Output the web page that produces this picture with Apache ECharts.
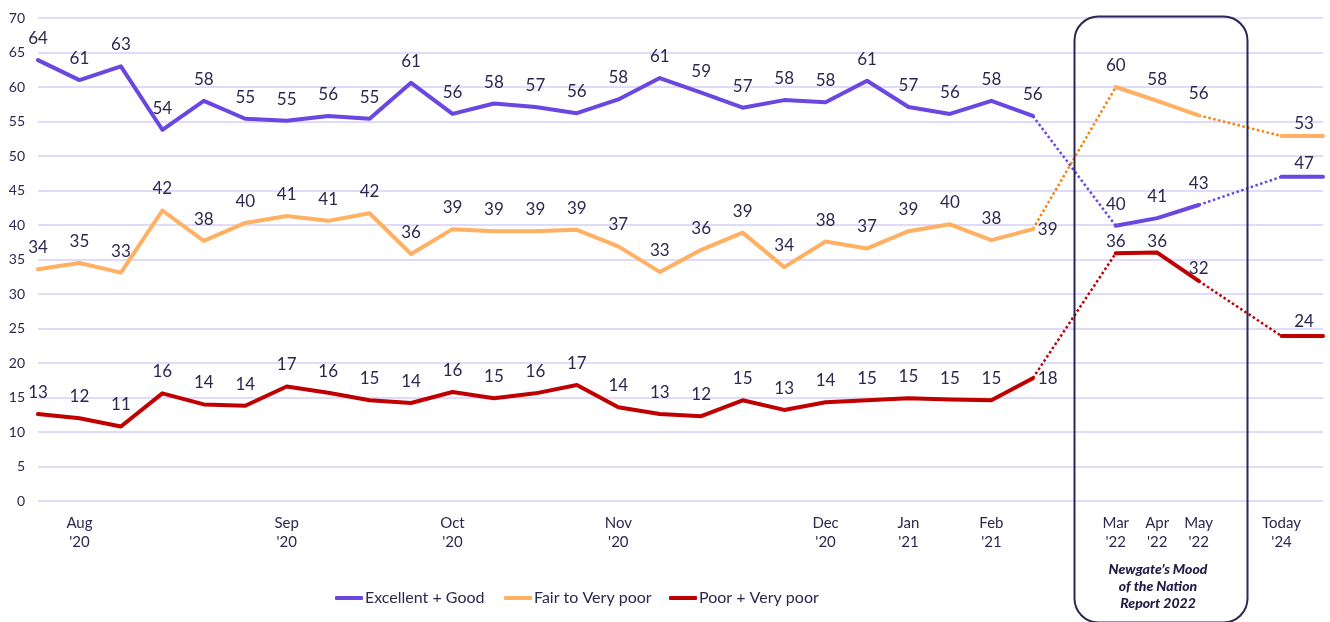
<!DOCTYPE html>
<html><head><meta charset="utf-8">
<script src="https://cdn.jsdelivr.net/npm/echarts@6/dist/echarts.min.js"></script>
<style>html,body{margin:0;padding:0;background:#fff}#c{width:1330px;height:622px}</style>
</head><body><div id="c"></div>
<script>
// ---- data ----
const categories = ["", "Aug\n'20", "", "", "", "", "Sep\n'20", "", "", "", "Oct\n'20", "", "", "", "Nov\n'20", "", "", "", "", "Dec\n'20", "", "Jan\n'21", "", "Feb\n'21", "", "", "Mar\n'22", "Apr\n'22", "May\n'22", "", "Today\n'24", ""];
const seriesNames = ["Excellent + Good", "Fair to Very poor", "Poor + Very poor"];
const excellentGood = [63.9,61.0,63.0,53.8,58.0,55.4,55.1,55.8,55.4,60.6,56.1,57.6,57.1,56.2,58.2,61.3,59.2,57.0,58.1,57.8,60.9,57.1,56.1,58.0,55.8,null,39.9,41.0,42.9,null,47.0,47.0];
const fairToVeryPoor = [33.6,34.5,33.1,42.1,37.7,40.3,41.3,40.6,41.7,35.8,39.4,39.1,39.1,39.3,36.9,33.2,36.4,38.9,33.9,37.6,36.6,39.1,40.1,37.8,39.4,null,60.0,58.0,55.9,null,52.9,52.9];
const poorVeryPoor = [12.6,12.0,10.8,15.6,14.0,13.8,16.6,15.7,14.6,14.2,15.8,14.9,15.6,16.8,13.6,12.6,12.3,14.6,13.2,14.3,14.6,14.9,14.7,14.6,17.8,null,35.9,36.0,31.9,null,23.9,23.9];
const bridges = [[24, 26], [28, 30]];
const yMin = 0, yMax = 70, yStep = 5;

// ---- styling ----
const FONT = 'Lato';
const TXT = '#2b2850';
const colors = ['#6a47e0', '#ffb062', '#c00000'];
const dotColors = ['#6a47e0', '#f7820c', '#c00000'];
const legendLefts = [330, 499, 664];

function buildData(arr, special) {
  return arr.map((v, i) => {
    if (v == null) return '-';
    const lab = Object.assign({ show: true }, special[i] || {});
    return { value: v, label: lab };
  });
}
function bridgeData(arr, a, b) {
  return arr.map((v, i) => (i === a || i === b) ? v : '-');
}

const specials = [
  { 30: { show: false }, 31: { offset: [-19, 0], distance: 4 } },
  { 24: { position: 'right', distance: 4 }, 30: { show: false }, 31: { offset: [-19, 0], distance: 3 } },
  { 24: { position: 'right', distance: 4 }, 26: { distance: 2 }, 27: { distance: 2 }, 28: { distance: 3 }, 30: { show: false }, 31: { offset: [-19, 0], distance: 5 } }
];
const arrays = [excellentGood, fairToVeryPoor, poorVeryPoor];

const series = [];
arrays.forEach((arr, k) => {
  bridges.forEach(([a, b]) => {
    series.push({
      name: seriesNames[k] + ' bridge' + a, type: 'line', data: bridgeData(arr, a, b),
      connectNulls: true, symbol: 'none', silent: true, z: 2,
      lineStyle: { color: dotColors[k], width: 2.5, type: [2.5, 2.5] }, label: { show: false }
    });
  });
});
arrays.forEach((arr, k) => {
  series.push({
    name: seriesNames[k], type: 'line', data: buildData(arr, specials[k]),
    connectNulls: false, symbol: 'circle', symbolSize: 2, showSymbol: true, z: 3,
    lineStyle: { color: colors[k], width: 4, cap: 'round', join: 'round' },
    itemStyle: { color: colors[k] },
    label: {
      show: true, position: 'top', distance: 12, color: TXT, fontFamily: FONT, fontSize: 17,
      formatter: p => Math.round(p.value)
    }
  });
});

const chart = echarts.init(document.getElementById('c'));
chart.setOption({
  animation: false,
  grid: { left: 38, right: 7, top: 18, bottom: 121, containLabel: false },
  xAxis: {
    type: 'category', data: categories, boundaryGap: false,
    axisLine: { show: false }, axisTick: { show: false },
    axisLabel: { interval: 0, color: TXT, fontFamily: FONT, fontSize: 15, lineHeight: 19, margin: 13 }
  },
  yAxis: {
    type: 'value', min: yMin, max: yMax, interval: yStep,
    axisLine: { show: false }, axisTick: { show: false },
    axisLabel: { color: TXT, fontFamily: FONT, fontSize: 14, margin: 13 },
    splitLine: { lineStyle: { color: '#d6cefa', width: 1.5 } }
  },
  legend: seriesNames.map((n, k) => ({
    data: [n], left: legendLefts[k], top: 585, itemWidth: 28, itemHeight: 4,
    icon: 'roundRect',
    textStyle: { color: TXT, fontFamily: FONT, fontSize: 16, padding: [0, 0, 0, -3] }
  })),
  graphic: [
    { type: 'rect', left: 1072, top: 14, z: 10, silent: true,
      shape: { width: 173, height: 606, r: 24 },
      style: { fill: 'none', stroke: '#2b2752', lineWidth: 2 } },
    { type: 'text', x: 1158, y: 561, z: 10, silent: true,
      style: { text: "Newgate\u2019s Mood\nof the Nation\nReport 2022", align: 'center',
        fontFamily: FONT, fontSize: 14, fontWeight: 900, fontStyle: 'italic', lineHeight: 17, fill: '#1f1b45' } }
  ],
  series: series
});
</script>
</body></html>
